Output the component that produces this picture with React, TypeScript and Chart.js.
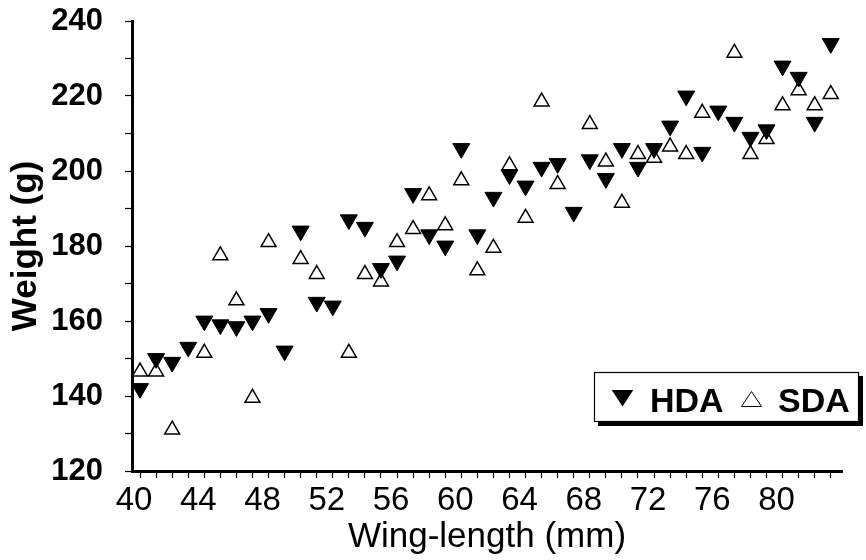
import React, { useEffect, useRef } from 'react';
import { Chart, registerables } from 'chart.js';

Chart.register(...registerables);

// ---- data ----
const wingLengthHDA = [40, 41, 42, 43, 44, 45, 46, 47, 48, 49, 50, 51, 52, 53, 54, 55, 56, 57, 58, 59, 60, 61, 62, 63, 64, 65, 66, 67, 68, 69, 70, 71, 72, 73, 74, 75, 76, 77, 78, 79, 80, 81, 82, 83];
const weightHDA = [142, 150, 149, 153, 160, 159, 158.5, 160, 162, 152, 184, 165, 164, 187, 185, 174, 176, 194, 183, 180, 206, 183, 193, 199, 196, 201, 202, 189, 203, 198, 206, 201, 206, 212, 220, 205, 216, 213, 209, 211, 228, 225, 213, 234];

const wingLengthSDA = [40, 41, 42, 44, 45, 46, 47, 48, 50, 51, 53, 54, 55, 56, 57, 58, 59, 60, 61, 62, 63, 64, 65, 66, 68, 69, 70, 71, 72, 73, 74, 75, 77, 78, 79, 80, 81, 82, 83];
const weightSDA = [146.5, 146.5, 131, 151.5, 177.5, 165.5, 139.5, 181, 176.5, 172.5, 151.5, 172.5, 170.5, 181, 184.5, 193.5, 185.5, 197.5, 173.5, 179.5, 201.5, 187.5, 218.5, 196.5, 212.5, 202.5, 191.5, 204.5, 203.5, 206.5, 204.5, 215.5, 231.5, 204.5, 208.5, 217.5, 221.5, 217.5, 220.5];

const seriesNames = ['HDA', 'SDA'];
const xTitle = 'Wing-length (mm)';
const yTitle = 'Weight (g)';
const xMin = 39.5;
const xMax = 83.7;
const yMin = 120;
const yMax = 240;
const xLabelEvery = 4;
const yLabelEvery = 20;

const legendPlugin = {
  id: 'boxLegend',
  afterDraw(chart: any) {
    const { ctx, chartArea } = chart;
    const x0 = chartArea.right - 248;
    const x1 = chartArea.right + 16;
    const y0 = chartArea.bottom - 99;
    const y1 = chartArea.bottom - 50;
    ctx.save();
    ctx.fillStyle = '#ffffff';
    ctx.fillRect(x0, y0, x1 - x0, y1 - y0);
    ctx.strokeStyle = '#000000';
    ctx.lineWidth = 1.2;
    ctx.strokeRect(x0 + 0.5, y0 + 0.5, x1 - x0, y1 - y0);
    ctx.fillStyle = '#000000';
    ctx.fillRect(x0 + 4, y1, x1 - x0 + 1, 5);
    ctx.fillRect(x1, y0 + 4, 5, y1 - y0 + 1);

    const midY = (y0 + y1) / 2;
    // filled down triangle
    const t1x = x0 + 28.5;
    ctx.beginPath();
    ctx.moveTo(t1x - 10.8, midY - 6.5);
    ctx.lineTo(t1x + 10.8, midY - 6.5);
    ctx.lineTo(t1x, midY + 10);
    ctx.closePath();
    ctx.fill();
    ctx.font = 'bold 34px "Liberation Sans", Arial, sans-serif';
    ctx.textBaseline = 'alphabetic';
    ctx.textAlign = 'left';
    ctx.fillText(seriesNames[0], x0 + 56, midY + 15);
    // open up triangle
    const t2x = x0 + 157.5;
    ctx.beginPath();
    ctx.moveTo(t2x - 10, midY + 10);
    ctx.lineTo(t2x + 10, midY + 10);
    ctx.lineTo(t2x, midY - 5);
    ctx.closePath();
    ctx.lineWidth = 1;
    ctx.stroke();
    ctx.fillText(seriesNames[1], x0 + 184, midY + 15);
    ctx.restore();
  },
};

export default function App() {
  const canvasRef = useRef<HTMLCanvasElement | null>(null);

  useEffect(() => {
    if (!canvasRef.current) return;
    const chart = new Chart(canvasRef.current, {
      type: 'scatter',
      data: {
        datasets: [
          {
            label: seriesNames[0],
            data: wingLengthHDA.map((x, i) => ({ x, y: weightHDA[i] })),
            pointStyle: 'triangle',
            rotation: 180,
            pointRadius: 9.8,
            pointHoverRadius: 9.8,
            backgroundColor: '#000000',
            borderColor: '#000000',
            borderWidth: 1,
          },
          {
            label: seriesNames[1],
            data: wingLengthSDA.map((x, i) => ({ x, y: weightSDA[i] })),
            pointStyle: 'triangle',
            pointRadius: 8.6,
            pointHoverRadius: 8.6,
            backgroundColor: '#ffffff',
            borderColor: '#000000',
            borderWidth: 1.5,
          },
        ],
      },
      options: {
        responsive: false,
        animation: false,
        events: [],
        layout: { padding: { top: 21, right: 24, left: 0, bottom: 0 } },
        plugins: {
          legend: { display: false },
          tooltip: { enabled: false },
        },
        scales: {
          x: {
            type: 'linear',
            min: xMin,
            max: xMax,
            afterFit: (scale: any) => {
              scale.height = 89;
              scale.paddingLeft = 0;
              scale.paddingRight = 0;
            },
            border: { display: true, color: '#000000', width: 3 },
            grid: {
              display: true,
              drawOnChartArea: false,
              drawTicks: true,
              tickLength: 7,
              tickColor: '#000000',
              tickWidth: 1.2,
            },
            ticks: {
              stepSize: 1,
              includeBounds: false,
              autoSkip: false,
              maxRotation: 0,
              minRotation: 0,
              padding: 3,
              labelOffset: -6,
              color: '#000000',
              font: { family: '"Liberation Sans", Arial, sans-serif', size: 33 },
              callback: (v: any) => (Number(v) % xLabelEvery === 0 ? String(v) : ''),
            },
            title: {
              display: true,
              text: xTitle,
              color: '#000000',
              font: { family: '"Liberation Sans", Arial, sans-serif', size: 35 },
              padding: { top: 0, bottom: 2 },
            },
          },
          y: {
            type: 'linear',
            min: yMin,
            max: yMax,
            afterFit: (scale: any) => {
              scale.width = 132;
              scale.paddingTop = 0;
              scale.paddingBottom = 0;
            },
            border: { display: true, color: '#000000', width: 3 },
            grid: {
              display: true,
              drawOnChartArea: false,
              drawTicks: true,
              tickLength: 7,
              tickColor: '#000000',
              tickWidth: 1.2,
            },
            ticks: {
              stepSize: 10,
              autoSkip: false,
              padding: 22,
              color: '#000000',
              font: { family: '"Liberation Sans", Arial, sans-serif', size: 31, weight: 'bold' },
              callback: (v: any) => (Number(v) % yLabelEvery === 0 ? String(v) : ''),
            },
            title: {
              display: true,
              text: yTitle,
              color: '#000000',
              font: { family: '"Liberation Sans", Arial, sans-serif', size: 35, weight: 'bold' },
              padding: { top: 5, bottom: 0 },
            },
          },
        },
      },
      plugins: [legendPlugin],
    });
    return () => chart.destroy();
  }, []);

  return (
    <div style={{ position: 'absolute', left: 0, top: 0, width: 866, height: 560, background: '#ffffff' }}>
      <canvas ref={canvasRef} width={866} height={560} />
    </div>
  );
}
